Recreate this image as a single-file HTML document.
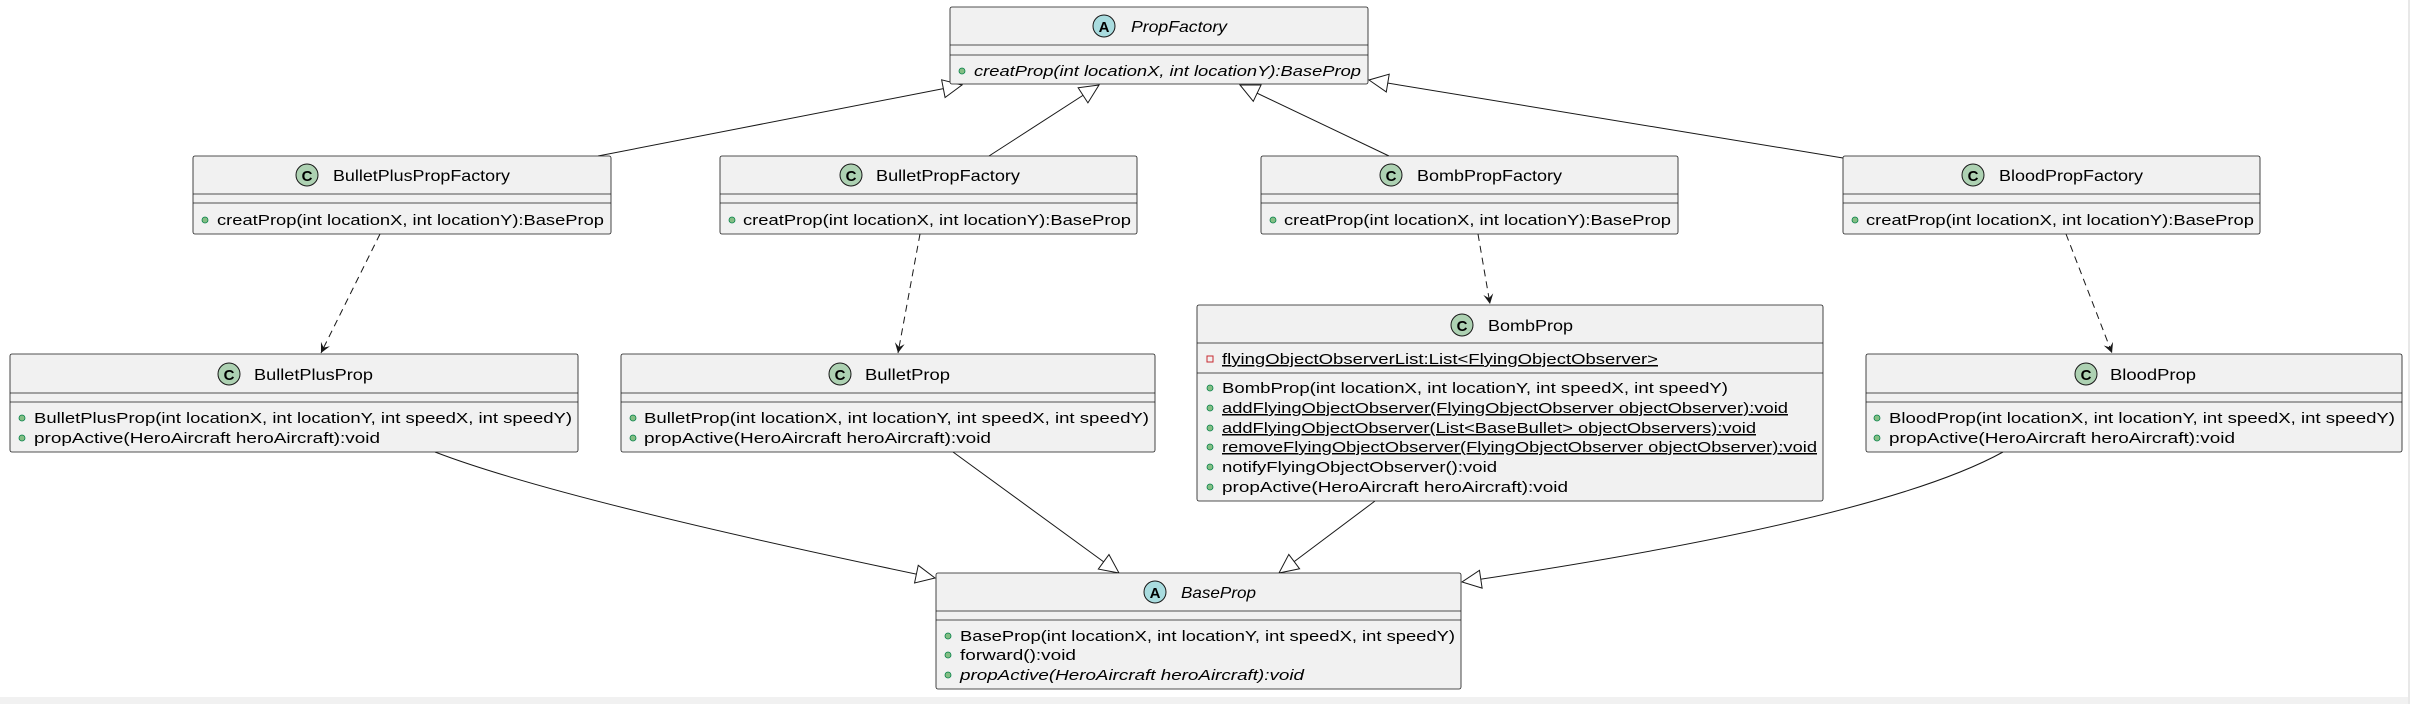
<!DOCTYPE html>
<html><head><meta charset="utf-8"><style>
html,body{margin:0;padding:0;background:#fff;}
svg{display:block;}
text{font-family:"Liberation Sans",sans-serif;font-size:15px;fill:#000;}
.h{font-size:16px;}
.i{font-style:italic;}
.u{text-decoration:underline;}
</style></head><body>
<svg width="2410" height="704" viewBox="0 0 2410 704" xmlns="http://www.w3.org/2000/svg">
<defs>
<marker id="tri" markerUnits="userSpaceOnUse" markerWidth="22" markerHeight="22" refX="20" refY="10" orient="auto">
<path d="M1,1 L20,10 L1,19 z" fill="#fff" stroke="#181818" stroke-width="1"/></marker>
<marker id="opn" markerUnits="userSpaceOnUse" markerWidth="12" markerHeight="12" refX="10" refY="5" orient="auto">
<path d="M0,0 L10,5 L0,10 L4,5 z" fill="#181818"/></marker>
</defs>
<rect x="0" y="697" width="2410" height="7" fill="#f1f1f1"/>
<rect x="2408" y="0" width="2" height="704" fill="#e8e8e8"/>

<g fill="none" stroke="#181818" stroke-width="1">
<path d="M598,156 L962,85" marker-end="url(#tri)"/>
<path d="M989,156 L1099,85" marker-end="url(#tri)"/>
<path d="M1389,156 L1240,85" marker-end="url(#tri)"/>
<path d="M1843,158 L1369,80" marker-end="url(#tri)"/>
<path d="M380,234 L321,353" stroke-dasharray="7,5" marker-end="url(#opn)"/>
<path d="M920,234 L898,353" stroke-dasharray="7,5" marker-end="url(#opn)"/>
<path d="M1478,234 L1490,304" stroke-dasharray="7,5" marker-end="url(#opn)"/>
<path d="M2066,234 L2112,353" stroke-dasharray="7,5" marker-end="url(#opn)"/>
<path d="M435,452 Q560,500 935,578" marker-end="url(#tri)"/>
<path d="M953,452 L1119,573" marker-end="url(#tri)"/>
<path d="M1375,501 L1279,573" marker-end="url(#tri)"/>
<path d="M2003,452 Q1880,520 1462,582" marker-end="url(#tri)"/>
</g>

<g stroke="#181818" stroke-width="0.8">
<rect x="950" y="7" width="418" height="77" rx="2" fill="#f1f1f1"/>
<line x1="950" y1="45" x2="1368" y2="45"/><line x1="950" y1="55" x2="1368" y2="55"/>
<rect x="193" y="156" width="418" height="78" rx="2" fill="#f1f1f1"/>
<line x1="193" y1="194" x2="611" y2="194"/><line x1="193" y1="203" x2="611" y2="203"/>
<rect x="720" y="156" width="417" height="78" rx="2" fill="#f1f1f1"/>
<line x1="720" y1="194" x2="1137" y2="194"/><line x1="720" y1="203" x2="1137" y2="203"/>
<rect x="1261" y="156" width="417" height="78" rx="2" fill="#f1f1f1"/>
<line x1="1261" y1="194" x2="1678" y2="194"/><line x1="1261" y1="203" x2="1678" y2="203"/>
<rect x="1843" y="156" width="417" height="78" rx="2" fill="#f1f1f1"/>
<line x1="1843" y1="194" x2="2260" y2="194"/><line x1="1843" y1="203" x2="2260" y2="203"/>
<rect x="10" y="354" width="568" height="98" rx="2" fill="#f1f1f1"/>
<line x1="10" y1="393" x2="578" y2="393"/><line x1="10" y1="402" x2="578" y2="402"/>
<rect x="621" y="354" width="534" height="98" rx="2" fill="#f1f1f1"/>
<line x1="621" y1="393" x2="1155" y2="393"/><line x1="621" y1="402" x2="1155" y2="402"/>
<rect x="1197" y="305" width="626" height="196" rx="2" fill="#f1f1f1"/>
<line x1="1197" y1="343" x2="1823" y2="343"/><line x1="1197" y1="373" x2="1823" y2="373"/>
<rect x="1866" y="354" width="536" height="98" rx="2" fill="#f1f1f1"/>
<line x1="1866" y1="393" x2="2402" y2="393"/><line x1="1866" y1="402" x2="2402" y2="402"/>
<rect x="936" y="573" width="525" height="116" rx="2" fill="#f1f1f1"/>
<line x1="936" y1="611" x2="1461" y2="611"/><line x1="936" y1="620" x2="1461" y2="620"/>
</g>

<g stroke="#181818" stroke-width="1">
<circle cx="1104" cy="26" r="11" fill="#a9dcdf"/>
<circle cx="307" cy="175" r="11" fill="#add1b2"/>
<circle cx="851" cy="175" r="11" fill="#add1b2"/>
<circle cx="1391" cy="175" r="11" fill="#add1b2"/>
<circle cx="1973" cy="175" r="11" fill="#add1b2"/>
<circle cx="229" cy="374" r="11" fill="#add1b2"/>
<circle cx="840" cy="374" r="11" fill="#add1b2"/>
<circle cx="1462" cy="325" r="11" fill="#add1b2"/>
<circle cx="2086" cy="374" r="11" fill="#add1b2"/>
<circle cx="1155" cy="592" r="11" fill="#a9dcdf"/>
</g>
<g style="font-weight:bold;font-size:16px" text-anchor="middle">
<text x="1104" y="32">A</text><text x="307" y="181">C</text><text x="851" y="181">C</text>
<text x="1391" y="181">C</text><text x="1973" y="181">C</text><text x="229" y="380">C</text>
<text x="840" y="380">C</text><text x="1462" y="331">C</text><text x="2086" y="380">C</text>
<text x="1155" y="598">A</text>
</g>

<g fill="#84be84" stroke="#038048" stroke-width="0.8">
<circle cx="962" cy="71" r="3"/>
<circle cx="205" cy="220" r="3"/><circle cx="732" cy="220" r="3"/><circle cx="1273" cy="220" r="3"/><circle cx="1855" cy="220" r="3"/>
<circle cx="22" cy="418" r="3"/><circle cx="22" cy="438" r="3"/>
<circle cx="633" cy="418" r="3"/><circle cx="633" cy="438" r="3"/>
<circle cx="1877" cy="418" r="3"/><circle cx="1877" cy="438" r="3"/>
<circle cx="1210" cy="388" r="3"/><circle cx="1210" cy="408" r="3"/><circle cx="1210" cy="428" r="3"/><circle cx="1210" cy="447" r="3"/><circle cx="1210" cy="467" r="3"/><circle cx="1210" cy="487" r="3"/>
<circle cx="948" cy="636" r="3"/><circle cx="948" cy="655" r="3"/><circle cx="948" cy="675" r="3"/>
</g>
<rect x="1207" y="356" width="6" height="6" fill="none" stroke="#c82930" stroke-width="1"/>

<text class="h i" x="1131" y="32" textLength="96" lengthAdjust="spacingAndGlyphs">PropFactory</text>
<text class="h" x="333" y="181" textLength="177" lengthAdjust="spacingAndGlyphs">BulletPlusPropFactory</text>
<text class="h" x="876" y="181" textLength="144" lengthAdjust="spacingAndGlyphs">BulletPropFactory</text>
<text class="h" x="1417" y="181" textLength="145" lengthAdjust="spacingAndGlyphs">BombPropFactory</text>
<text class="h" x="1999" y="181" textLength="144" lengthAdjust="spacingAndGlyphs">BloodPropFactory</text>
<text class="h" x="254" y="380" textLength="119" lengthAdjust="spacingAndGlyphs">BulletPlusProp</text>
<text class="h" x="865" y="380" textLength="85" lengthAdjust="spacingAndGlyphs">BulletProp</text>
<text class="h" x="1488" y="331" textLength="85" lengthAdjust="spacingAndGlyphs">BombProp</text>
<text class="h" x="2110" y="380" textLength="86" lengthAdjust="spacingAndGlyphs">BloodProp</text>
<text class="h i" x="1181" y="598" textLength="75" lengthAdjust="spacingAndGlyphs">BaseProp</text>

<text class="i" x="974" y="76" textLength="387" lengthAdjust="spacingAndGlyphs">creatProp(int locationX, int locationY):BaseProp</text>
<text x="217" y="225" textLength="387" lengthAdjust="spacingAndGlyphs">creatProp(int locationX, int locationY):BaseProp</text>
<text x="743" y="225" textLength="388" lengthAdjust="spacingAndGlyphs">creatProp(int locationX, int locationY):BaseProp</text>
<text x="1284" y="225" textLength="387" lengthAdjust="spacingAndGlyphs">creatProp(int locationX, int locationY):BaseProp</text>
<text x="1866" y="225" textLength="388" lengthAdjust="spacingAndGlyphs">creatProp(int locationX, int locationY):BaseProp</text>

<text x="34" y="423" textLength="538" lengthAdjust="spacingAndGlyphs">BulletPlusProp(int locationX, int locationY, int speedX, int speedY)</text>
<text x="34" y="443" textLength="346" lengthAdjust="spacingAndGlyphs">propActive(HeroAircraft heroAircraft):void</text>
<text x="644" y="423" textLength="505" lengthAdjust="spacingAndGlyphs">BulletProp(int locationX, int locationY, int speedX, int speedY)</text>
<text x="644" y="443" textLength="347" lengthAdjust="spacingAndGlyphs">propActive(HeroAircraft heroAircraft):void</text>
<text x="1889" y="423" textLength="506" lengthAdjust="spacingAndGlyphs">BloodProp(int locationX, int locationY, int speedX, int speedY)</text>
<text x="1889" y="443" textLength="346" lengthAdjust="spacingAndGlyphs">propActive(HeroAircraft heroAircraft):void</text>

<text class="u" x="1222" y="364" textLength="436" lengthAdjust="spacingAndGlyphs">flyingObjectObserverList:List&lt;FlyingObjectObserver&gt;</text>
<text x="1222" y="393" textLength="506" lengthAdjust="spacingAndGlyphs">BombProp(int locationX, int locationY, int speedX, int speedY)</text>
<text class="u" x="1222" y="413" textLength="566" lengthAdjust="spacingAndGlyphs">addFlyingObjectObserver(FlyingObjectObserver objectObserver):void</text>
<text class="u" x="1222" y="433" textLength="534" lengthAdjust="spacingAndGlyphs">addFlyingObjectObserver(List&lt;BaseBullet&gt; objectObservers):void</text>
<text class="u" x="1222" y="452" textLength="595" lengthAdjust="spacingAndGlyphs">removeFlyingObjectObserver(FlyingObjectObserver objectObserver):void</text>
<text x="1222" y="472" textLength="275" lengthAdjust="spacingAndGlyphs">notifyFlyingObjectObserver():void</text>
<text x="1222" y="492" textLength="346" lengthAdjust="spacingAndGlyphs">propActive(HeroAircraft heroAircraft):void</text>

<text x="960" y="641" textLength="495" lengthAdjust="spacingAndGlyphs">BaseProp(int locationX, int locationY, int speedX, int speedY)</text>
<text x="960" y="660" textLength="116" lengthAdjust="spacingAndGlyphs">forward():void</text>
<text class="i" x="960" y="680" textLength="344" lengthAdjust="spacingAndGlyphs">propActive(HeroAircraft heroAircraft):void</text>
</svg>
</body></html>
